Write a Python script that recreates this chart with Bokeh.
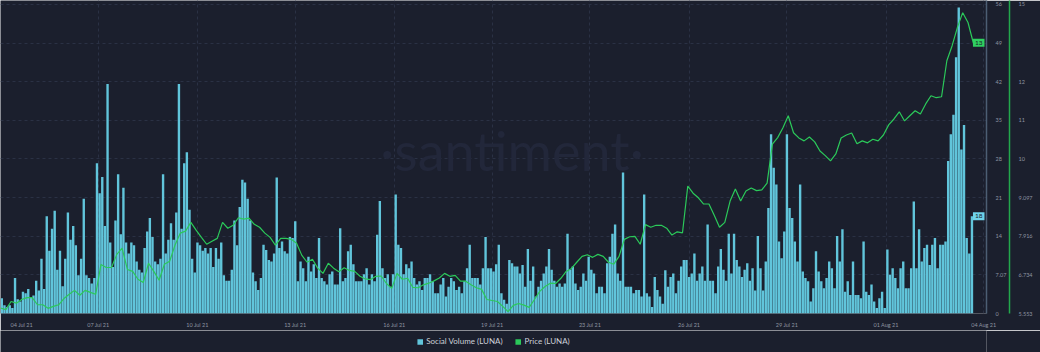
from bokeh.plotting import figure
from bokeh.layouts import column
from bokeh.models import (Range1d, LinearAxis, FixedTicker, Label, Legend, LegendItem,
                          ColumnDataSource)
from bokeh.embed import file_html
from bokeh.resources import INLINE

BG = "#1b1f2d"
BAR = "#61c5db"
GREEN = "#2bc95a"
FONT = "Lato"

# ---- data (2-hourly social volume, 4-hourly price, hours since 04 Jul 21 00:00) ----
volume = [
    2.8, 1.5, 1.2, 1.5, 1.0, 6.5, 2.6, 2.2, 4.0, 3.7, 4.5, 3.0,
    3.3, 6.0, 4.2, 10.0, 4.5, 17.8, 11.5, 15.5, 18.8, 8.0, 11.5, 5.0,
    10.0, 18.5, 13.5, 16.0, 12.5, 7.0, 10.0, 21.0, 7.0, 6.5, 5.5, 6.5,
    27.5, 22.0, 25.0, 16.0, 42.0, 13.0, 8.5, 17.0, 25.5, 14.5, 23.0, 13.0,
    11.0, 13.0, 12.5, 9.5, 8.0, 7.5, 12.0, 15.0, 17.5, 14.0, 9.5, 9.0,
    10.0, 25.5, 11.0, 13.5, 16.5, 13.5, 18.5, 42.0, 15.5, 27.5, 29.5, 19.0,
    10.0, 7.5, 13.0, 12.5, 11.5, 12.0, 11.0, 12.0, 8.5, 12.0, 10.0, 13.0,
    7.0, 6.0, 6.0, 8.0, 17.0, 12.5, 19.5, 24.5, 24.0, 21.0, 17.0, 7.5,
    5.9, 4.3, 6.5, 12.6, 11.6, 9.8, 9.5, 11.0, 24.9, 12.0, 13.2, 11.4,
    11.0, 14.0, 13.8, 16.9, 5.9, 9.5, 8.3, 5.9, 10.4, 7.7, 9.0, 6.5,
    13.8, 6.5, 5.9, 5.3, 7.2, 7.7, 5.3, 5.3, 15.6, 5.9, 6.5, 11.4,
    12.6, 9.0, 5.9, 5.9, 5.9, 7.2, 8.3, 5.3, 7.2, 5.9, 14.4, 20.6,
    8.3, 6.5, 7.2, 4.9, 7.2, 21.8, 12.6, 12.0, 7.2, 9.0, 8.3, 9.5,
    6.5, 5.3, 5.9, 4.3, 6.5, 6.5, 7.2, 5.9, 3.7, 3.7, 5.3, 6.5,
    3.1, 4.9, 6.5, 5.9, 4.3, 4.9, 3.7, 5.9, 8.3, 12.6, 6.5, 6.5,
    6.5, 5.3, 8.3, 14.0, 8.3, 8.3, 7.7, 9.0, 12.6, 3.7, 2.5, 1.8,
    9.8, 9.2, 8.6, 8.6, 7.3, 8.9, 4.9, 11.8, 6.0, 8.6, 3.1, 4.9,
    6.0, 7.3, 8.6, 11.8, 8.0, 6.0, 4.9, 5.5, 4.9, 5.5, 14.6, 8.0,
    8.6, 5.5, 4.3, 4.9, 7.3, 6.0, 10.4, 8.0, 7.3, 3.7, 4.9, 4.9,
    3.7, 9.2, 10.4, 14.6, 16.3, 7.3, 6.0, 25.8, 4.9, 4.9, 4.9, 3.7,
    4.3, 4.3, 3.1, 21.8, 3.7, 3.1, 1.2, 6.7, 4.3, 3.1, 1.8, 7.9,
    4.9, 6.7, 7.3, 3.7, 6.0, 8.6, 9.8, 9.8, 6.7, 7.3, 11.0, 6.0,
    7.3, 8.6, 6.0, 16.3, 6.0, 6.0, 3.7, 8.6, 11.8, 8.0, 6.0, 14.6,
    7.3, 14.6, 9.8, 8.6, 6.7, 8.0, 9.2, 6.0, 8.3, 4.2, 14.2, 8.3,
    4.2, 9.5, 19.3, 32.8, 26.7, 23.6, 13.2, 10.1, 15.0, 32.8, 19.3, 17.5,
    13.2, 9.5, 23.6, 7.7, 6.5, 5.9, 2.2, 4.6, 11.4, 7.7, 5.9, 4.6,
    6.5, 9.5, 8.3, 4.6, 14.2, 9.5, 15.4, 4.0, 5.9, 3.4, 9.5, 3.4,
    3.4, 2.8, 13.2, 4.0, 3.4, 5.3, 2.2, 1.0, 2.8, 4.0, 1.0, 11.7,
    7.1, 8.3, 6.5, 4.6, 8.3, 9.5, 4.6, 4.6, 8.3, 20.5, 8.3, 15.4,
    9.5, 12.0, 12.6, 8.9, 12.6, 13.8, 8.3, 12.6, 12.6, 13.2, 27.9, 32.8,
    36.4, 46.9, 56.0, 30.0, 34.5, 13.8, 11.0, 17.8,
]
price = [
    5.72, 5.67, 5.92, 5.87, 5.98, 6.04, 6.04, 5.82, 5.82, 5.71,
    5.77, 5.82, 6.01, 6.14, 6.26, 6.11, 6.26, 6.20, 6.14, 7.05,
    6.96, 6.96, 7.36, 7.55, 6.90, 6.84, 6.60, 6.50, 7.09, 6.84,
    6.57, 7.06, 7.15, 7.64, 8.01, 8.07, 8.34, 8.10, 7.88, 7.67,
    7.76, 7.85, 8.34, 8.16, 8.25, 8.48, 8.44, 8.47, 8.28, 8.19,
    8.01, 7.88, 7.64, 7.85, 7.85, 7.82, 7.70, 7.33, 7.12, 7.21,
    6.94, 6.78, 7.09, 6.94, 6.83, 6.95, 6.87, 6.84, 6.69, 6.61,
    6.59, 6.69, 6.70, 6.47, 6.32, 6.78, 6.60, 6.63, 6.35, 6.34,
    6.43, 6.48, 6.55, 6.64, 6.78, 6.69, 6.72, 6.54, 6.54, 6.43,
    6.34, 6.29, 5.98, 5.95, 5.92, 5.77, 5.61, 5.80, 5.86, 5.81,
    5.74, 5.98, 6.23, 6.38, 6.48, 6.47, 6.63, 6.84, 6.93, 7.12,
    7.30, 7.35, 7.27, 7.36, 7.30, 7.12, 7.06, 7.30, 7.82, 7.90,
    7.91, 7.67, 8.27, 8.19, 8.25, 8.25, 8.16, 7.95, 8.05, 8.02,
    9.45, 9.23, 9.09, 8.90, 8.90, 8.56, 8.19, 8.34, 8.99, 9.36,
    8.99, 9.30, 9.39, 9.31, 9.33, 9.54, 10.73, 10.93, 11.23, 11.60,
    11.08, 10.92, 10.83, 10.95, 10.80, 10.52, 10.38, 10.22, 10.43, 10.92,
    11.01, 11.07, 10.74, 10.83, 10.77, 10.88, 10.83, 11.01, 11.32, 11.50,
    11.72, 11.44, 11.60, 11.75, 11.65, 11.96, 12.21, 12.15, 12.18, 13.28,
    13.74, 14.30, 14.75, 14.45, 13.83,
]
vol_hours = [2 * i + 1 for i in range(len(volume))]
price_hours = [4 * k for k in range(len(price))]

x_tick_hours = [16, 74, 149, 223, 298, 372, 446, 521, 595, 670, 744]
x_tick_labels = ["04 Jul 21", "07 Jul 21", "10 Jul 21", "13 Jul 21", "16 Jul 21", "19 Jul 21",
                 "23 Jul 21", "26 Jul 21", "29 Jul 21", "01 Aug 21", "04 Aug 21"]
vol_ticks = [0, 7.07, 14.14, 21.21, 28.28, 35.35, 42.42, 49.49, 56.56]
vol_tick_labels = ["0", "7.07", "14", "21", "28", "35", "42", "49", "56"]
price_ticks = [5.553, 6.734, 7.916, 9.097, 10.278, 11.459, 12.641, 15.0]
price_tick_labels = ["5.553", "6.734", "7.916", "9.097", "10", "11", "12", "15"]

p = figure(width=1040, height=330, output_backend="svg", toolbar_location=None,
           x_range=Range1d(0, 746), y_range=Range1d(0, 57.29),
           y_axis_location="right",
           background_fill_color=BG, border_fill_color=BG, outline_line_color=None,
           min_border_left=0, min_border_top=0, min_border_right=54, min_border_bottom=17)
p.extra_y_ranges = {"price": Range1d(5.553, 15.122)}

# grids
p.xgrid.ticker = FixedTicker(ticks=x_tick_hours[1:])
p.ygrid.ticker = FixedTicker(ticks=vol_ticks)
for g in (p.xgrid, p.ygrid):
    g.grid_line_color = "#2a3144"
    g.grid_line_dash = "3 3"
    g.grid_line_width = 1

# x axis
xa = p.xaxis[0]
xa.ticker = FixedTicker(ticks=x_tick_hours)
xa.major_label_overrides = dict(zip(x_tick_hours, x_tick_labels))
xa.axis_line_color = None
xa.major_tick_line_color = None
xa.minor_tick_line_color = None
xa.major_label_text_color = "#8e94a1"
xa.major_label_text_font = FONT
xa.major_label_text_font_size = "5.5px"
xa.major_label_standoff = 2

# volume axis (right, inner)
va = p.yaxis[0]
va.ticker = FixedTicker(ticks=vol_ticks)
va.major_label_overrides = dict(zip(vol_ticks, vol_tick_labels))
va.axis_line_color = "#4c5e73"
va.axis_line_width = 1.5
va.major_tick_line_color = None
va.minor_tick_line_color = None
va.major_label_text_color = "#8e94a1"
va.major_label_text_font = FONT
va.major_label_text_font_size = "5.5px"
va.major_label_standoff = 3

# price axis (right, outer)
pa = LinearAxis(y_range_name="price", ticker=FixedTicker(ticks=price_ticks),
                major_label_overrides=dict(zip(price_ticks, price_tick_labels)),
                axis_line_color="#23a84c", axis_line_width=1.5,
                major_tick_line_color=None, minor_tick_line_color=None,
                major_label_text_color="#8e94a1", major_label_text_font=FONT,
                major_label_text_font_size="5.5px", major_label_standoff=3)
p.add_layout(pa, "right")

# watermark
p.add_layout(Label(x=387, y=29.8, text="\u00b7santiment\u00b7", text_align="center",
                   text_baseline="middle", text_font=FONT, text_font_size="54px",
                   text_color="#22273a", level="underlay"))

# marks
vsrc = ColumnDataSource(dict(x=vol_hours, v=volume))
p.vbar(x="x", top="v", width=1.8, source=vsrc, fill_color=BAR, line_color=None)
p.line(price_hours, price, y_range_name="price", line_color=GREEN, line_width=1.2)


# current value tags (kept just inside the frame's right edge)
def make_tag(yval, text, fill, **extra):
    kw = dict(x=984, x_units="canvas", y=yval, text=text, text_align="right",
              text_baseline="middle", text_font=FONT, text_font_size="6.5px",
              text_color=BG, background_fill_color=fill, **extra)
    try:
        return Label(padding=2, **kw)
    except Exception:
        return Label(**kw)


p.add_layout(make_tag(volume[-1], str(round(volume[-1])), "#6fd3ea"))
p.add_layout(make_tag(price[-1], str(int(price[-1])), "#2fd060", y_range_name="price"))

# legend strip
lg = figure(width=1040, height=22, output_backend="svg", toolbar_location=None,
            x_range=Range1d(0, 1), y_range=Range1d(0, 1),
            x_axis_location=None, y_axis_location=None,
            background_fill_color=BG, border_fill_color=BG, outline_line_color=None,
            min_border_left=0, min_border_top=0, min_border_right=0, min_border_bottom=0)
lg.grid.visible = False
key_vol = lg.vbar(x=[-5], top=[-5], width=0.1, fill_color=BAR, line_color=None)
key_price = lg.vbar(x=[-5], top=[-5], width=0.1, fill_color=GREEN, line_color=None)
legend = Legend(items=[LegendItem(label="Social Volume (LUNA)", renderers=[key_vol]),
                       LegendItem(label="Price (LUNA)", renderers=[key_price])],
                orientation="horizontal", location="center",
                background_fill_alpha=0, border_line_alpha=0,
                label_text_color="#cdd1d9", label_text_font=FONT, label_text_font_size="8px",
                glyph_width=7, glyph_height=7, label_standoff=3, spacing=12,
                label_height=10, padding=0, margin=0)
lg.add_layout(legend)

open("out.html", "w").write(file_html(column(p, lg, spacing=0), INLINE))
